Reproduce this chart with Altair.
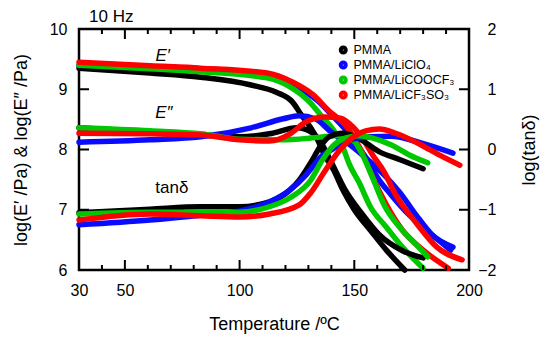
import altair as alt
import pandas as pd

# ---------------- data ----------------
series = ["PMMA", "PMMA/LiClO₄", "PMMA/LiCOOCF₃", "PMMA/LiCF₃SO₃"]
colors = ["#000000", "#0a0aff", "#00c800", "#ff0000"]

# E' (left axis, log Pa)
pmma_Ep_T = [30, 61, 83, 105, 116, 123, 127, 131, 134, 137, 141, 145, 150, 157, 164, 172]
pmma_Ep_v = [9.35, 9.27, 9.20, 9.07, 8.95, 8.79, 8.57, 8.36, 8.16, 7.91, 7.66, 7.33, 7.00, 6.66, 6.33, 6.00]
clo4_Ep_T = [30, 61, 83, 112, 126, 134, 141, 147, 151, 156, 160, 166, 174, 183, 192]
clo4_Ep_v = [9.40, 9.37, 9.34, 9.24, 9.02, 8.81, 8.54, 8.29, 8.08, 7.81, 7.54, 7.25, 6.91, 6.61, 6.33]
cooc_Ep_T = [30, 61, 83, 112, 122, 131, 136, 141, 145, 148, 152, 157, 164, 171, 180]
cooc_Ep_v = [9.40, 9.34, 9.29, 9.19, 9.04, 8.77, 8.54, 8.32, 8.04, 7.74, 7.46, 7.05, 6.71, 6.38, 6.03]
cfso_Ep_T = [30, 61, 83, 112, 123, 132, 139, 146, 151, 154, 157, 164, 171, 180, 191]
cfso_Ep_v = [9.45, 9.39, 9.35, 9.27, 9.12, 8.91, 8.64, 8.41, 8.12, 7.91, 7.63, 7.08, 6.66, 6.33, 6.03]

# E'' (left axis, log Pa)
pmma_Epp_T = [30, 61, 83, 100, 113, 125, 132, 136, 140, 146, 153, 161, 171, 180]
pmma_Epp_v = [8.36, 8.29, 8.24, 8.21, 8.26, 8.36, 8.27, 8.08, 7.79, 7.33, 6.95, 6.58, 6.32, 6.20]
clo4_Epp_T = [30, 61, 83, 105, 119, 126, 133, 139, 148, 155, 163, 170, 177, 184, 193]
clo4_Epp_v = [8.12, 8.16, 8.21, 8.36, 8.51, 8.56, 8.51, 8.32, 8.08, 7.86, 7.58, 7.28, 6.91, 6.58, 6.38]
cooc_Epp_T = [30, 61, 83, 100, 118, 131, 139, 146, 150, 154, 158, 163, 170, 177, 182]
cooc_Epp_v = [8.36, 8.31, 8.26, 8.17, 8.16, 8.19, 8.22, 8.24, 8.14, 7.88, 7.53, 7.08, 6.70, 6.42, 6.22]
cfso_Epp_T = [30, 61, 83, 100, 113, 122, 129, 137, 144, 149, 154, 158, 163, 168, 177, 186, 197]
cfso_Epp_v = [8.27, 8.26, 8.24, 8.16, 8.14, 8.26, 8.46, 8.54, 8.52, 8.39, 8.16, 7.91, 7.63, 7.25, 6.78, 6.38, 6.17]

# log(tan delta) (right axis)
pmma_tan_T = [30, 61, 83, 100, 113, 122, 126, 131, 135, 139, 145, 153, 161, 170, 180]
pmma_tan_v = [-1.05, -0.99, -0.95, -0.95, -0.87, -0.67, -0.51, -0.22, 0.04, 0.21, 0.27, 0.16, -0.04, -0.17, -0.32]
clo4_tan_T = [30, 61, 83, 100, 113, 122, 129, 135, 142, 148, 157, 166, 179, 193]
clo4_tan_v = [-1.25, -1.17, -1.09, -1.02, -0.87, -0.67, -0.42, -0.14, 0.04, 0.16, 0.21, 0.22, 0.11, -0.06]
cooc_tan_T = [30, 61, 83, 100, 113, 122, 131, 136, 141, 146, 152, 158, 166, 174, 182]
cooc_tan_v = [-1.07, -1.04, -1.04, -1.04, -0.95, -0.80, -0.51, -0.18, 0.07, 0.19, 0.23, 0.19, 0.08, -0.09, -0.22]
cfso_tan_T = [30, 61, 83, 100, 113, 126, 131, 137, 143, 149, 155, 161, 168, 179, 187, 196]
cfso_tan_v = [-1.17, -1.07, -1.10, -1.12, -1.07, -0.92, -0.72, -0.37, -0.04, 0.19, 0.31, 0.34, 0.27, 0.08, -0.09, -0.26]

x_labels = [30, 50, 100, 150, 200]
x_minor = [40, 60, 70, 80, 90, 110, 120, 130, 140, 160, 170, 180, 190]
x_major = [50, 100, 150]
y_left_ticks = [7, 8, 9]
y_right_ticks = [-1, 0, 1]

W, H = 390, 241
FONT = "Liberation Sans"

# ---------------- tables ----------------
left_sets = [
    (series[0], "E'", pmma_Ep_T, pmma_Ep_v), (series[1], "E'", clo4_Ep_T, clo4_Ep_v),
    (series[2], "E'", cooc_Ep_T, cooc_Ep_v), (series[3], "E'", cfso_Ep_T, cfso_Ep_v),
    (series[0], "E''", pmma_Epp_T, pmma_Epp_v), (series[1], "E''", clo4_Epp_T, clo4_Epp_v),
    (series[2], "E''", cooc_Epp_T, cooc_Epp_v), (series[3], "E''", cfso_Epp_T, cfso_Epp_v),
]
right_sets = [
    (series[0], "tan", pmma_tan_T, pmma_tan_v), (series[1], "tan", clo4_tan_T, clo4_tan_v),
    (series[2], "tan", cooc_tan_T, cooc_tan_v), (series[3], "tan", cfso_tan_T, cfso_tan_v),
]


def build(sets):
    rows = []
    for s, q, ts, vs in sets:
        for i, (t, v) in enumerate(zip(ts, vs)):
            rows.append({"series": s, "curve": s + q, "T": t, "v": v, "i": i,
                         "rank": series.index(s)})
    return pd.DataFrame(rows)


df_left = build(left_sets)
df_right = build(right_sets)

xscale = alt.Scale(domain=[30, 200], nice=False, zero=False)
lscale = alt.Scale(domain=[6, 10], nice=False, zero=False)
rscale = alt.Scale(domain=[-2, 2], nice=False, zero=False)
cscale = alt.Scale(domain=series, range=colors)

xaxis = alt.Axis(values=x_labels, title="Temperature /ºC", labelPadding=12, titlePadding=17,
                 labelFlush=False)

line_kw = dict(strokeWidth=5.5, strokeCap="round", strokeJoin="round", interpolate="monotone")

left_lines = alt.Chart(df_left).mark_line(**line_kw).encode(
    x=alt.X("T:Q", scale=xscale, axis=xaxis),
    y=alt.Y("v:Q", scale=lscale,
            axis=alt.Axis(values=[6, 7, 8, 9, 10], title="log(E′ /Pa) & log(E″ /Pa)",
                          labelPadding=12, titlePadding=19)),
    color=alt.Color("series:N", scale=cscale, sort=series,
                    legend=alt.Legend(title=None, orient="none", legendX=258, legendY=15,
                                      symbolType="circle", symbolSize=16, symbolStrokeWidth=5,
                                      labelFontSize=12.5, labelFont=FONT, rowPadding=2,
                                      clipHeight=12, padding=0, labelOffset=4)),
    detail="curve:N",
    order="i:Q",
)

right_lines = alt.Chart(df_right).mark_line(**line_kw).encode(
    x=alt.X("T:Q", scale=xscale),
    y=alt.Y("v:Q", scale=rscale,
            axis=alt.Axis(orient="right", values=[-2, -1, 0, 1, 2], title="log(tanδ)",
                          labelAlign="right", labelPadding=27, titlePadding=42, titleAngle=270)),
    color=alt.Color("series:N", scale=cscale, sort=series, legend=None),
    detail="curve:N",
    order="i:Q",
)

# inward ticks
xminor_df = pd.DataFrame({"t": x_minor})
xmajor_df = pd.DataFrame({"t": x_major})
tick_kw = dict(color="black", strokeWidth=2)
bot_minor = alt.Chart(xminor_df).mark_rule(**tick_kw).encode(
    x=alt.X("t:Q", scale=xscale), y=alt.value(H), y2=alt.value(H - 5))
bot_major = alt.Chart(xmajor_df).mark_rule(**tick_kw).encode(
    x=alt.X("t:Q", scale=xscale), y=alt.value(H), y2=alt.value(H - 10))
top_minor = alt.Chart(xminor_df).mark_rule(**tick_kw).encode(
    x=alt.X("t:Q", scale=xscale), y=alt.value(0), y2=alt.value(5))
top_major = alt.Chart(xmajor_df).mark_rule(**tick_kw).encode(
    x=alt.X("t:Q", scale=xscale), y=alt.value(0), y2=alt.value(10))
left_ticks = alt.Chart(pd.DataFrame({"t": y_left_ticks})).mark_rule(**tick_kw).encode(
    y=alt.Y("t:Q", scale=lscale, axis=None), x=alt.value(0), x2=alt.value(10))
right_ticks = alt.Chart(pd.DataFrame({"t": y_right_ticks})).mark_rule(**tick_kw).encode(
    y=alt.Y("t:Q", scale=rscale, axis=None), x=alt.value(W), x2=alt.value(W - 10))

# curve labels
lab_left = pd.DataFrame({"T": [66.5, 67.0], "v": [9.55, 8.60], "txt": ["E′", "E″"]})
lab_right = pd.DataFrame({"T": [70.5], "v": [-0.64], "txt": ["tanδ"]})
txt_left = alt.Chart(lab_left).mark_text(font=FONT, fontSize=17, fontStyle="italic",
                                         color="black").encode(
    x=alt.X("T:Q", scale=xscale), y=alt.Y("v:Q", scale=lscale, axis=None), text="txt:N")
txt_right = alt.Chart(lab_right).mark_text(font=FONT, fontSize=17, color="black").encode(
    x=alt.X("T:Q", scale=xscale), y=alt.Y("v:Q", scale=rscale, axis=None), text="txt:N")

chart = alt.layer(
    left_lines, right_lines, bot_minor, bot_major, top_minor, top_major,
    left_ticks, right_ticks, txt_left, txt_right,
).resolve_scale(y="independent").properties(
    width=W, height=H,
    title=alt.Title("10 Hz", anchor="start", frame="group", fontSize=17, font=FONT,
                    fontWeight="normal", color="black", dx=10, offset=-5),
    autosize=alt.AutoSizeParams(type="none"),
    padding={"left": 71, "top": 21, "right": 73, "bottom": 64},
).configure_view(stroke="black", strokeWidth=2.5).configure_axis(
    labelFont=FONT, labelFontSize=16, labelColor="black", titleFont=FONT, titleFontSize=18,
    titleFontWeight="normal", titleColor="black", domain=False, ticks=False, grid=False,
).configure_legend(labelColor="black")

chart.save("out.html", embed_options={"renderer": "svg", "actions": False})
